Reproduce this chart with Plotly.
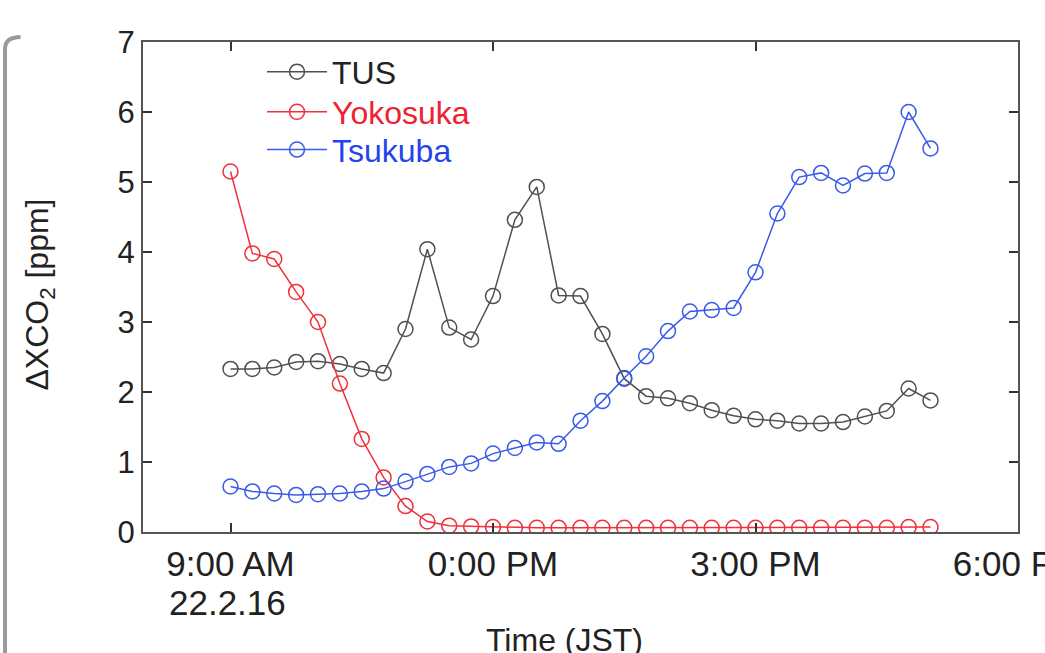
import plotly.graph_objects as go

times = [
    "2022-02-16 09:00", "2022-02-16 09:15", "2022-02-16 09:30", "2022-02-16 09:45",
    "2022-02-16 10:00", "2022-02-16 10:15", "2022-02-16 10:30", "2022-02-16 10:45",
    "2022-02-16 11:00", "2022-02-16 11:15", "2022-02-16 11:30", "2022-02-16 11:45",
    "2022-02-16 12:00", "2022-02-16 12:15", "2022-02-16 12:30", "2022-02-16 12:45",
    "2022-02-16 13:00", "2022-02-16 13:15", "2022-02-16 13:30", "2022-02-16 13:45",
    "2022-02-16 14:00", "2022-02-16 14:15", "2022-02-16 14:30", "2022-02-16 14:45",
    "2022-02-16 15:00", "2022-02-16 15:15", "2022-02-16 15:30", "2022-02-16 15:45",
    "2022-02-16 16:00", "2022-02-16 16:15", "2022-02-16 16:30", "2022-02-16 16:45",
    "2022-02-16 17:00",
]

tus = [2.33, 2.33, 2.35, 2.43, 2.44, 2.40, 2.33, 2.27, 2.90, 4.04, 2.92, 2.75,
       3.37, 4.46, 4.93, 3.38, 3.37, 2.83, 2.19, 1.94, 1.91, 1.84, 1.74, 1.66,
       1.61, 1.59, 1.55, 1.55, 1.57, 1.65, 1.73, 2.05, 1.88]

yokosuka = [5.15, 3.98, 3.90, 3.43, 3.00, 2.12, 1.33, 0.78, 0.37, 0.15, 0.09, 0.08,
            0.07, 0.06, 0.06, 0.06, 0.06, 0.06, 0.06, 0.06, 0.06, 0.06, 0.06, 0.06,
            0.06, 0.06, 0.06, 0.06, 0.06, 0.06, 0.06, 0.07, 0.07]

tsukuba = [0.65, 0.58, 0.55, 0.53, 0.54, 0.55, 0.58, 0.62, 0.72, 0.83, 0.93, 0.98,
           1.12, 1.20, 1.28, 1.26, 1.59, 1.87, 2.20, 2.51, 2.87, 3.15, 3.17, 3.20,
           3.71, 4.55, 5.07, 5.13, 4.95, 5.12, 5.13, 6.00, 5.48]

tick_vals = ["2022-02-16 09:00", "2022-02-16 12:00", "2022-02-16 15:00", "2022-02-16 18:00"]
tick_text = ["9:00 AM", "0:00 PM", "3:00 PM", "6:00 PM"]
date_label = "22.2.16"

series = [
    ("TUS", tus, "#505050", "#222222"),
    ("Yokosuka", yokosuka, "#f0303a", "#ee2233"),
    ("Tsukuba", tsukuba, "#3a5ae8", "#2244ee"),
]

FONT = "Liberation Sans, Arial, sans-serif"
legend_ids = ["legend", "legend2", "legend3"]
legend_y = [0.939, 0.857, 0.780]

fig = go.Figure()
for i, (name, vals, col, tcol) in enumerate(series):
    fig.add_trace(go.Scatter(
        x=times, y=vals, mode="lines+markers",
        name=f"<span style='color:{tcol}'>{name}</span>",
        legend=legend_ids[i],
        line=dict(color=col, width=1.5),
        marker=dict(symbol="circle-open", size=15, color=col, line=dict(width=1.5)),
    ))

legend_common = dict(x=0.136, xanchor="left", yanchor="middle",
                     font=dict(size=32, family=FONT),
                     bgcolor="rgba(0,0,0,0)", itemwidth=60)

fig.update_layout(
    width=1045, height=653,
    margin=dict(l=143, r=27, t=42, b=121),
    paper_bgcolor="white", plot_bgcolor="white",
    font=dict(family=FONT, color="#222222"),
    showlegend=True,
    legend=dict(y=legend_y[0], **legend_common),
    legend2=dict(y=legend_y[1], **legend_common),
    legend3=dict(y=legend_y[2], **legend_common),
    xaxis=dict(
        type="date", automargin=False,
        range=["2022-02-16 08:00", "2022-02-16 18:00"],
        tickvals=tick_vals, ticktext=tick_text, ticklabeloverflow="allow",
        ticks="inside", ticklen=9, tickwidth=1.5, tickcolor="#333333",
        showline=True, linecolor="#555555", linewidth=2, mirror="ticks",
        showgrid=False, zeroline=False,
        tickfont=dict(size=35, family=FONT, color="#222222"),
    ),
    yaxis=dict(
        automargin=False,
        range=[0, 7], tickvals=[0, 1, 2, 3, 4, 5, 6, 7],
        ticks="inside", ticklen=9, tickwidth=1.5, tickcolor="#333333",
        showline=True, linecolor="#555555", linewidth=2, mirror="ticks",
        showgrid=False, zeroline=False,
        tickfont=dict(size=31, family=FONT, color="#222222"),
    ),
    annotations=[
        dict(text=date_label, x=tick_vals[0], xref="x", y=-0.144, yref="paper",
             xshift=-3, showarrow=False, xanchor="center", yanchor="middle",
             font=dict(size=35, family=FONT, color="#222222")),
        dict(text="Time (JST)", x=0.482, xref="paper", y=-0.220, yref="paper",
             showarrow=False, xanchor="center", yanchor="middle",
             font=dict(size=32, family=FONT, color="#222222")),
        dict(text="ΔXCO<sub>2</sub> [ppm]", x=-0.118, xref="paper", y=0.484, yref="paper",
             showarrow=False, xanchor="center", yanchor="middle", textangle=-90,
             font=dict(size=32, family=FONT, color="#222222")),
    ],
    shapes=[dict(
        type="path", xref="paper", yref="paper",
        path="M -0.1577,-0.25 L -0.1577,0.985 Q -0.1577,1.010 -0.1400,1.010",
        line=dict(color="#9a9a9a", width=4),
    )],
)

fig.write_html("out.html", config={"displayModeBar": False},
               post_script="document.body.style.margin='0px';")
